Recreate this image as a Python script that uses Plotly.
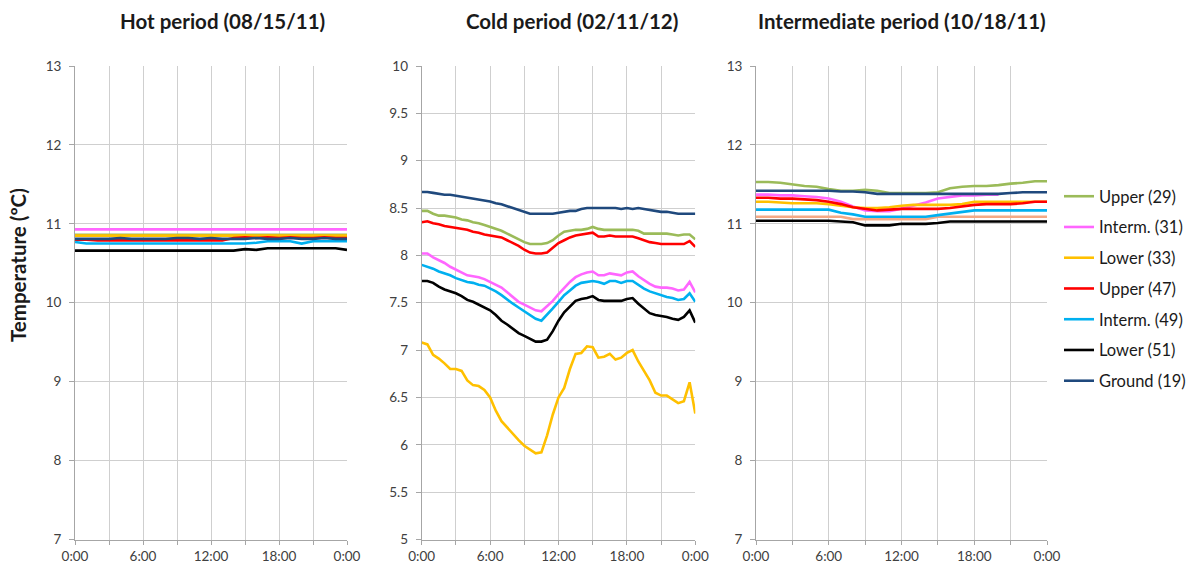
import plotly.graph_objects as go

# ---------------- data ----------------
series_names = ["Upper (29)", "Interm. (31)", "Lower (33)", "Upper (47)",
                "Interm. (49)", "Lower (51)", "Ground (19)"]
series_colors = ["#9BBB59", "#FF66FF", "#FFC000", "#FF0000",
                 "#00B0F0", "#000000", "#1F497D"]
extra_color = "#F4A985"

tick_hours = [0, 3, 6, 9, 12, 15, 18, 21, 24]
tick_text = ["0:00", "", "6:00", "", "12:00", "", "18:00", "", "0:00"]

# Hot period (08/15/11), hourly readings
hot_hours = [0, 1, 2, 3, 4, 5, 6, 7, 8, 9, 10, 11, 12, 13, 14, 15, 16, 17, 18, 19, 20, 21, 22, 23, 24]
hot_upper29 = [10.86, 10.86, 10.86, 10.86, 10.86, 10.86, 10.86, 10.86, 10.86, 10.86, 10.86, 10.86, 10.86,
               10.86, 10.86, 10.86, 10.86, 10.86, 10.86, 10.86, 10.86, 10.86, 10.86, 10.86, 10.86]
hot_interm31 = [10.93, 10.93, 10.93, 10.93, 10.93, 10.93, 10.93, 10.93, 10.93, 10.93, 10.93, 10.93, 10.93,
                10.93, 10.93, 10.93, 10.93, 10.93, 10.93, 10.93, 10.93, 10.93, 10.93, 10.93, 10.93]
hot_lower33 = [10.85, 10.85, 10.85, 10.85, 10.85, 10.85, 10.85, 10.85, 10.85, 10.85, 10.85, 10.85, 10.85,
               10.85, 10.85, 10.85, 10.85, 10.85, 10.85, 10.85, 10.85, 10.85, 10.85, 10.85, 10.85]
hot_upper47 = [10.80, 10.80, 10.79, 10.79, 10.79, 10.79, 10.79, 10.79, 10.79, 10.79, 10.79, 10.79, 10.79,
               10.79, 10.82, 10.83, 10.82, 10.83, 10.82, 10.83, 10.82, 10.82, 10.83, 10.82, 10.82]
hot_interm49 = [10.77, 10.75, 10.75, 10.75, 10.75, 10.75, 10.75, 10.75, 10.75, 10.75, 10.75, 10.75, 10.75,
                10.75, 10.75, 10.75, 10.76, 10.78, 10.78, 10.78, 10.75, 10.78, 10.78, 10.78, 10.78]
hot_lower51 = [10.66, 10.66, 10.66, 10.66, 10.66, 10.66, 10.66, 10.66, 10.66, 10.66, 10.66, 10.66, 10.66,
               10.66, 10.66, 10.68, 10.67, 10.69, 10.69, 10.69, 10.69, 10.69, 10.69, 10.69, 10.67]
hot_ground19 = [10.81, 10.81, 10.81, 10.81, 10.82, 10.81, 10.81, 10.81, 10.81, 10.82, 10.82, 10.81, 10.82,
                10.81, 10.81, 10.81, 10.82, 10.81, 10.81, 10.82, 10.81, 10.81, 10.82, 10.81, 10.81]

# Cold period (02/11/12), half-hourly readings
cold_hours = [0, 0.5, 1, 1.5, 2, 2.5, 3, 3.5, 4, 4.5, 5, 5.5, 6, 6.5, 7, 7.5, 8, 8.5, 9, 9.5, 10, 10.5,
              11, 11.5, 12, 12.5, 13, 13.5, 14, 14.5, 15, 15.5, 16, 16.5, 17, 17.5, 18, 18.5, 19, 19.5,
              20, 20.5, 21, 21.5, 22, 22.5, 23, 23.5, 24]
cold_upper29 = [8.47, 8.47, 8.44, 8.42, 8.42, 8.41, 8.40, 8.38, 8.37, 8.35, 8.34, 8.32, 8.30, 8.28, 8.26,
                8.23, 8.20, 8.17, 8.14, 8.12, 8.12, 8.12, 8.13, 8.16, 8.21, 8.25, 8.26, 8.27, 8.27, 8.28,
                8.30, 8.28, 8.27, 8.27, 8.27, 8.27, 8.27, 8.27, 8.26, 8.23, 8.23, 8.23, 8.23, 8.23, 8.22,
                8.21, 8.22, 8.22, 8.17]
cold_interm31 = [8.02, 8.02, 7.98, 7.95, 7.92, 7.88, 7.85, 7.82, 7.79, 7.78, 7.77, 7.75, 7.72, 7.69, 7.66,
                 7.61, 7.56, 7.51, 7.48, 7.45, 7.42, 7.41, 7.46, 7.52, 7.59, 7.66, 7.72, 7.77, 7.80, 7.82,
                 7.83, 7.79, 7.79, 7.81, 7.80, 7.79, 7.82, 7.83, 7.78, 7.74, 7.70, 7.67, 7.66, 7.66, 7.65,
                 7.63, 7.64, 7.72, 7.61]
cold_lower33 = [7.08, 7.06, 6.95, 6.91, 6.86, 6.80, 6.80, 6.78, 6.68, 6.63, 6.62, 6.58, 6.50, 6.36, 6.25,
                6.18, 6.11, 6.05, 5.99, 5.95, 5.91, 5.92, 6.10, 6.32, 6.50, 6.60, 6.80, 6.96, 6.97, 7.04,
                7.03, 6.92, 6.93, 6.96, 6.90, 6.92, 6.97, 7.00, 6.88, 6.78, 6.68, 6.55, 6.52, 6.52, 6.48,
                6.44, 6.46, 6.66, 6.33]
cold_upper47 = [8.35, 8.36, 8.34, 8.33, 8.31, 8.30, 8.29, 8.28, 8.27, 8.25, 8.24, 8.22, 8.21, 8.20, 8.19,
                8.16, 8.13, 8.10, 8.06, 8.03, 8.02, 8.02, 8.03, 8.08, 8.13, 8.16, 8.19, 8.21, 8.22, 8.23,
                8.24, 8.20, 8.20, 8.21, 8.20, 8.20, 8.20, 8.20, 8.18, 8.16, 8.14, 8.13, 8.12, 8.12, 8.12,
                8.12, 8.12, 8.15, 8.09]
cold_interm49 = [7.90, 7.88, 7.86, 7.83, 7.81, 7.79, 7.76, 7.74, 7.72, 7.71, 7.69, 7.68, 7.65, 7.62, 7.58,
                 7.53, 7.49, 7.45, 7.41, 7.37, 7.33, 7.31, 7.37, 7.44, 7.51, 7.58, 7.63, 7.68, 7.71, 7.72,
                 7.73, 7.72, 7.70, 7.73, 7.73, 7.71, 7.73, 7.73, 7.69, 7.65, 7.62, 7.60, 7.58, 7.56, 7.55,
                 7.53, 7.54, 7.60, 7.51]
cold_lower51 = [7.73, 7.73, 7.71, 7.67, 7.64, 7.62, 7.60, 7.57, 7.53, 7.51, 7.48, 7.45, 7.42, 7.37, 7.31,
                7.27, 7.22, 7.18, 7.15, 7.12, 7.09, 7.09, 7.11, 7.20, 7.31, 7.40, 7.46, 7.52, 7.54, 7.55,
                7.57, 7.53, 7.52, 7.52, 7.52, 7.52, 7.54, 7.55, 7.49, 7.44, 7.39, 7.37, 7.36, 7.35, 7.33,
                7.32, 7.35, 7.42, 7.29]
cold_ground19 = [8.67, 8.67, 8.66, 8.65, 8.64, 8.64, 8.63, 8.62, 8.61, 8.60, 8.59, 8.58, 8.57, 8.55, 8.54,
                 8.52, 8.50, 8.48, 8.46, 8.44, 8.44, 8.44, 8.44, 8.44, 8.45, 8.46, 8.47, 8.47, 8.49, 8.50,
                 8.50, 8.50, 8.50, 8.50, 8.50, 8.49, 8.50, 8.49, 8.50, 8.49, 8.48, 8.47, 8.46, 8.46, 8.45,
                 8.44, 8.44, 8.44, 8.44]

# Intermediate period (10/18/11), hourly readings
mid_hours = [0, 1, 2, 3, 4, 5, 6, 7, 8, 9, 10, 11, 12, 13, 14, 15, 16, 17, 18, 19, 20, 21, 22, 23, 24]
mid_upper29 = [11.53, 11.53, 11.52, 11.50, 11.48, 11.47, 11.44, 11.42, 11.42, 11.43, 11.42, 11.39, 11.39,
               11.39, 11.39, 11.40, 11.45, 11.47, 11.48, 11.48, 11.49, 11.51, 11.52, 11.54, 11.54]
mid_interm31 = [11.37, 11.37, 11.36, 11.36, 11.35, 11.34, 11.32, 11.28, 11.22, 11.17, 11.16, 11.16, 11.19,
                11.23, 11.27, 11.32, 11.34, 11.36, 11.36, 11.37, 11.37, None, None, None, None]
mid_lower33 = [11.28, 11.28, 11.27, 11.26, 11.26, 11.26, 11.25, 11.23, 11.21, 11.20, 11.20, 11.21, 11.23,
               11.24, 11.24, 11.24, 11.24, 11.25, 11.28, 11.28, 11.28, 11.28, 11.28, 11.28, 11.28]
mid_upper47 = [11.33, 11.33, 11.32, 11.32, 11.31, 11.30, 11.28, 11.25, 11.21, 11.19, 11.17, 11.18, 11.19,
               11.19, 11.19, 11.19, 11.20, 11.22, 11.24, 11.25, 11.25, 11.25, 11.26, 11.28, 11.28]
mid_interm49 = [11.18, 11.18, 11.18, 11.18, 11.18, 11.18, 11.18, 11.14, 11.12, 11.09, 11.09, 11.09, 11.09,
                11.09, 11.09, 11.11, 11.13, 11.15, 11.17, 11.17, 11.17, 11.17, 11.17, 11.17, 11.17]
mid_lower51 = [11.04, 11.04, 11.04, 11.04, 11.04, 11.04, 11.04, 11.03, 11.02, 10.98, 10.98, 10.98, 11.00,
               11.00, 11.00, 11.01, 11.03, 11.03, 11.03, 11.03, 11.03, 11.03, 11.03, 11.03, 11.03]
mid_ground19 = [11.42, 11.42, 11.42, 11.42, 11.42, 11.42, 11.42, 11.41, 11.41, 11.40, 11.38, 11.38, 11.38,
                11.38, 11.38, 11.38, 11.38, 11.38, 11.38, 11.38, 11.38, 11.39, 11.40, 11.40, 11.40]
mid_extra = [11.09, 11.09, 11.09, 11.09, 11.09, 11.09, 11.09, 11.09, 11.06, 11.06, 11.06, 11.06, 11.06,
             11.06, 11.06, 11.09, 11.09, 11.09, 11.09, 11.09, 11.09, 11.09, 11.09, 11.09, 11.09]

panels = [
    ("Hot period (08/15/11)", hot_hours,
     [hot_upper29, hot_interm31, hot_lower33, hot_upper47, hot_interm49, hot_lower51, hot_ground19],
     None, [7, 13], 1),
    ("Cold period (02/11/12)", cold_hours,
     [cold_upper29, cold_interm31, cold_lower33, cold_upper47, cold_interm49, cold_lower51, cold_ground19],
     None, [5, 10], 0.5),
    ("Intermediate period (10/18/11)", mid_hours,
     [mid_upper29, mid_interm31, mid_lower33, mid_upper47, mid_interm49, mid_lower51, mid_ground19],
     mid_extra, [7, 13], 1),
]

# ---------------- layout geometry (paper fractions) ----------------
W, H = 1191, 568
x_domains = [[75 / W, 347 / W], [421.7 / W, 695.3 / W], [756 / W, 1047 / W]]
y_domain = [1 - 539.5 / H, 1 - 66 / H]
title_centers = [222 / W, 572 / W, 902 / W]

TICK_FONT = dict(family="Lato, Open Sans, sans-serif", size=13.5, color="#404040")
TITLE_FONT = dict(family="Lato, Open Sans, sans-serif", size=20.5, color="#1a1a1a")
GRID = "#CFCFCF"
AXIS = "#A6A6A6"

fig = go.Figure()
layout_axes = {}
annotations = []

for i, (title, hours, values, extra, yrange, ystep) in enumerate(panels):
    n = "" if i == 0 else str(i + 1)
    xa, ya = "x" + n, "y" + n

    if extra is not None:
        fig.add_trace(go.Scatter(x=hours, y=extra, mode="lines", xaxis=xa, yaxis=ya,
                                 line=dict(color=extra_color, width=2.6),
                                 showlegend=False, hoverinfo="skip"))
    for name, color, vals in zip(series_names, series_colors, values):
        fig.add_trace(go.Scatter(
            x=hours, y=vals, mode="lines", name=name, xaxis=xa, yaxis=ya,
            line=dict(color=color, width=2.6), connectgaps=False,
            legendgroup=name, showlegend=(i == 0)))

    layout_axes["xaxis" + n] = dict(
        domain=x_domains[i], range=[0, 24], anchor=ya, automargin=False,
        tickmode="array", tickvals=tick_hours, ticktext=tick_text,
        showgrid=True, gridcolor=GRID, gridwidth=1,
        showline=True, linecolor=AXIS, linewidth=1,
        ticks="outside", ticklen=4, tickcolor=AXIS,
        tickfont=TICK_FONT, zeroline=False, fixedrange=True)
    layout_axes["yaxis" + n] = dict(
        domain=y_domain, range=yrange, anchor=xa, dtick=ystep, tick0=yrange[0],
        automargin=False, ticklabelstandoff=5,
        showgrid=True, gridcolor=GRID, gridwidth=1,
        showline=True, linecolor=AXIS, linewidth=1,
        ticks="outside", ticklen=5, tickcolor=AXIS,
        tickfont=TICK_FONT, zeroline=False, fixedrange=True)

    annotations.append(dict(
        text="<b>%s</b>" % title, xref="paper", yref="paper",
        x=title_centers[i], y=1 - 21 / H, xanchor="center", yanchor="middle",
        showarrow=False, font=TITLE_FONT))

annotations.append(dict(
    text="<b>Temperature (ºC)</b>", xref="paper", yref="paper",
    x=18 / W, y=1 - 265 / H, xanchor="center", yanchor="middle",
    textangle=-90, showarrow=False, font=TITLE_FONT))

fig.update_layout(
    width=W, height=H,
    margin=dict(l=0, r=0, t=0, b=0, autoexpand=False),
    paper_bgcolor="white", plot_bgcolor="white",
    showlegend=True,
    legend=dict(x=1059 / W, y=1 - 179 / H, xanchor="left", yanchor="top",
                font=dict(family="Lato, Open Sans, sans-serif", size=16.5, color="#1a1a1a"),
                tracegroupgap=6.3, itemwidth=30, bgcolor="rgba(0,0,0,0)"),
    annotations=annotations,
    **layout_axes)

fig.write_html("out.html")
